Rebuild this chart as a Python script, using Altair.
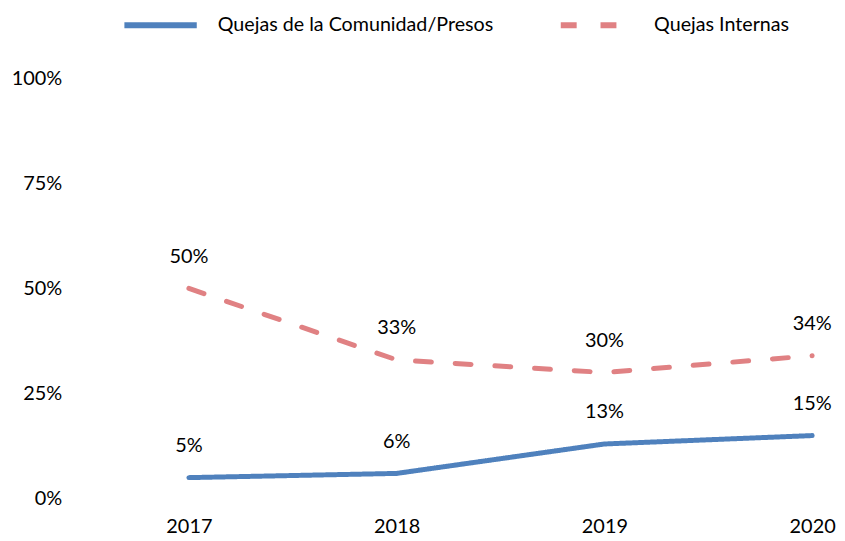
import altair as alt
import pandas as pd

years = [2017, 2018, 2019, 2020]
series_names = ["Quejas de la Comunidad/Presos", "Quejas Internas"]
comunidad = [0.05, 0.06, 0.13, 0.15]
internas = [0.50, 0.33, 0.30, 0.34]

rows = []
for y, v in zip(years, comunidad):
    rows.append({"year": y, "value": v, "serie": series_names[0]})
for y, v in zip(years, internas):
    rows.append({"year": y, "value": v, "serie": series_names[1]})
df = pd.DataFrame(rows)

FONT = "Lato"
colors = ["#4f81bd", "#e08183"]

x = alt.X("year:Q", scale=alt.Scale(domain=[2017, 2020], nice=False, zero=False),
          axis=alt.Axis(values=years, format="d", title=None, grid=False, domain=False,
                        ticks=False, labelPadding=18, labelFontSize=20, labelFont=FONT,
                        labelColor="#000000", labelFlush=False))
y = alt.Y("value:Q", scale=alt.Scale(domain=[0, 1], nice=False),
          axis=alt.Axis(values=[0, 0.25, 0.5, 0.75, 1], format=".0%", title=None, grid=False,
                        domain=False, ticks=False, labelPadding=128, labelFontSize=20,
                        labelFont=FONT, labelColor="#000000"))

lines = alt.Chart(df).mark_line(strokeWidth=5, strokeCap="round", strokeJoin="round").encode(
    x=x, y=y,
    color=alt.Color("serie:N", scale=alt.Scale(domain=series_names, range=colors),
                    legend=alt.Legend(title=None, orient="none", legendX=-68, legendY=-93,
                                      direction="horizontal", symbolType="stroke",
                                      symbolSize=5300, symbolStrokeWidth=6,
                                      labelFont=FONT, labelFontSize=19.8, labelColor="#000000",
                                      labelOffset=18, columnPadding=55, labelLimit=400)),
    strokeDash=alt.StrokeDash("serie:N", scale=alt.Scale(domain=series_names, range=[[1, 0], [16, 24]]),
                              legend=None),
)

labels = alt.Chart(df).mark_text(dy=-32, fontSize=20, font=FONT, color="#000000").encode(
    x=x, y=y, text=alt.Text("value:Q", format=".0%")
)

chart = (lines + labels).properties(
    width=627, height=423,
    autosize=alt.AutoSizeParams(type="none"),
    padding={"left": 182, "top": 69, "right": 25, "bottom": 40},
).configure_view(stroke=None)

chart.save("out.html", embed_options={"renderer": "svg", "actions": False})
